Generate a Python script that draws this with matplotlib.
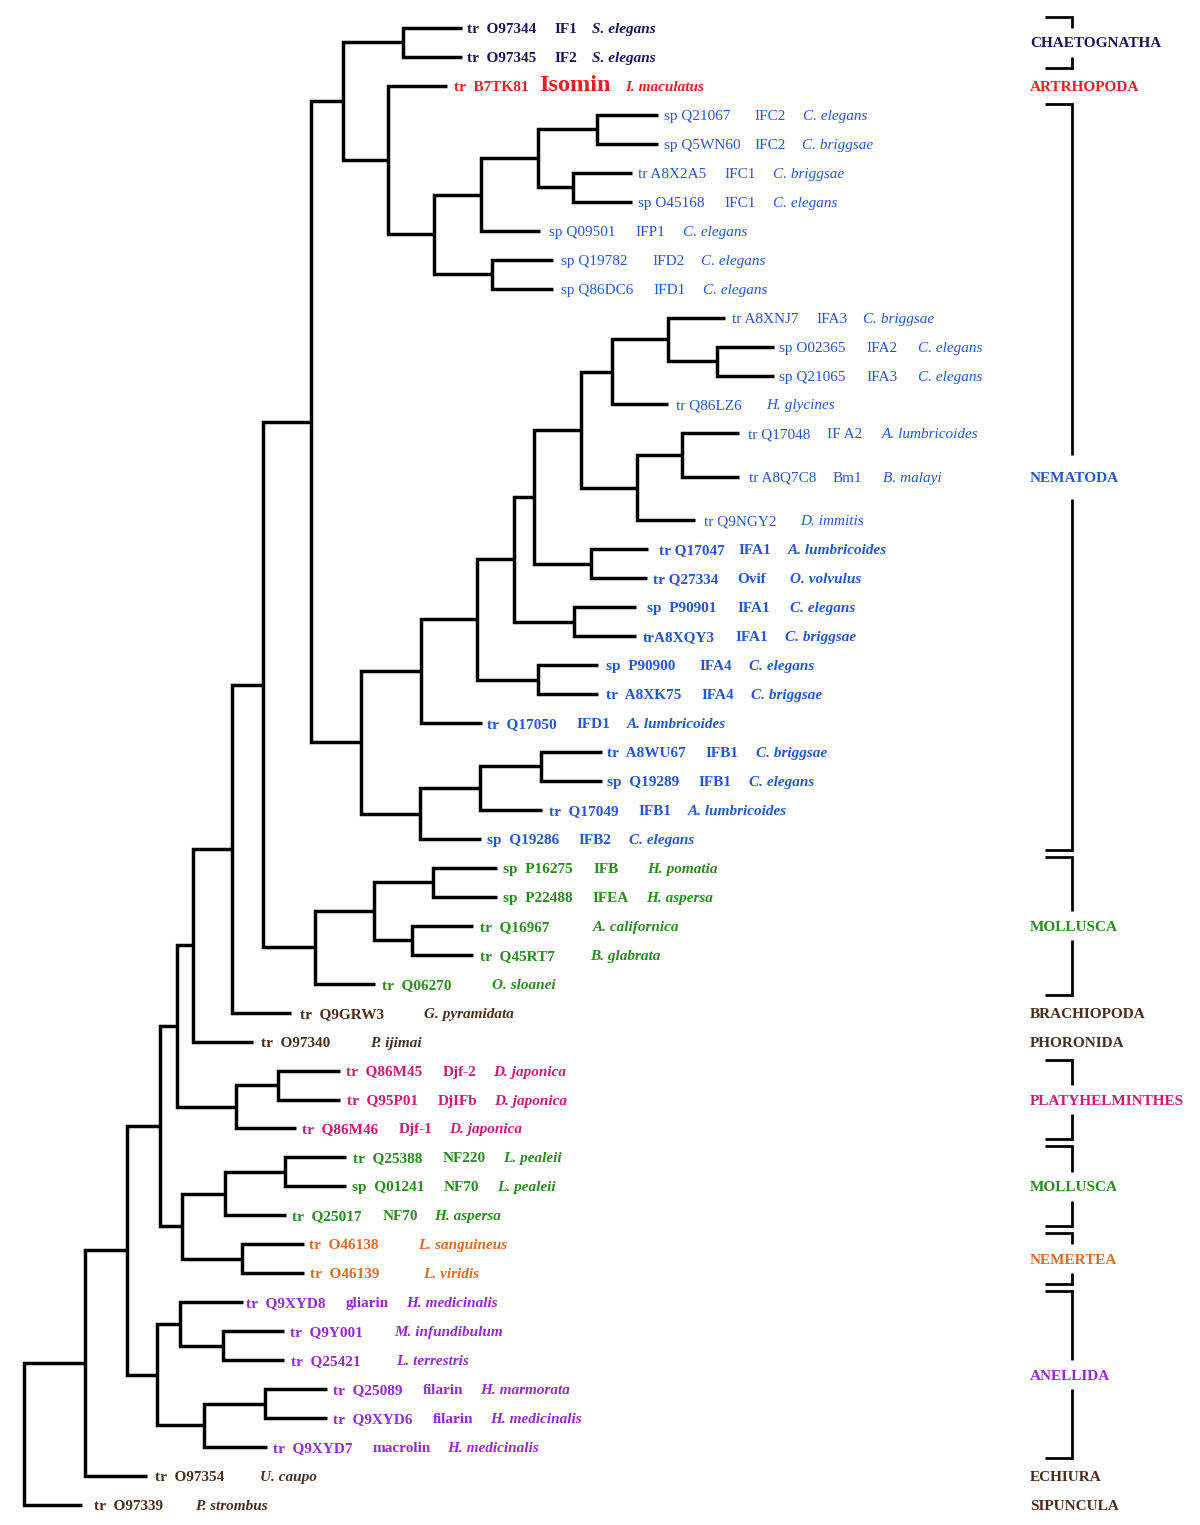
import matplotlib
matplotlib.use('Agg')
import matplotlib.pyplot as plt

# ---- leaves, top to bottom ----
leaf_id = ['tr  O97344', 'tr  O97345', 'tr  B7TK81',
           'sp Q21067', 'sp Q5WN60', 'tr A8X2A5', 'sp O45168', 'sp Q09501', 'sp Q19782', 'sp Q86DC6',
           'tr A8XNJ7', 'sp O02365', 'sp Q21065', 'tr Q86LZ6', 'tr Q17048', 'tr A8Q7C8', 'tr Q9NGY2',
           'tr Q17047', 'tr Q27334', 'sp  P90901', 'trA8XQY3', 'sp  P90900', 'tr  A8XK75', 'tr  Q17050',
           'tr  A8WU67', 'sp  Q19289', 'tr  Q17049', 'sp  Q19286',
           'sp  P16275', 'sp  P22488', 'tr  Q16967', 'tr  Q45RT7', 'tr  Q06270',
           'tr  Q9GRW3', 'tr  O97340',
           'tr  Q86M45', 'tr  Q95P01', 'tr  Q86M46',
           'tr  Q25388', 'sp  Q01241', 'tr  Q25017',
           'tr  O46138', 'tr  O46139',
           'tr  Q9XYD8', 'tr  Q9Y001', 'tr  Q25421', 'tr  Q25089', 'tr  Q9XYD6', 'tr  Q9XYD7',
           'tr  O97354', 'tr  O97339']
leaf_protein = ['IF1', 'IF2', 'Isomin', 'IFC2', 'IFC2', 'IFC1', 'IFC1', 'IFP1', 'IFD2', 'IFD1',
                'IFA3', 'IFA2', 'IFA3', '', 'IF A2', 'Bm1', '',
                'IFA1', 'Ovif', 'IFA1', 'IFA1', 'IFA4', 'IFA4', 'IFD1', 'IFB1', 'IFB1', 'IFB1', 'IFB2',
                'IFB', 'IFEA', '', '', '', '', '',
                'Djf-2', 'DjIFb', 'Djf-1', 'NF220', 'NF70', 'NF70', '', '',
                'gliarin', '', '', 'filarin', 'filarin', 'macrolin', '', '']
leaf_species = ['S. elegans', 'S. elegans', 'I. maculatus',
                'C. elegans', 'C. briggsae', 'C. briggsae', 'C. elegans', 'C. elegans', 'C. elegans', 'C. elegans',
                'C. briggsae', 'C. elegans', 'C. elegans', 'H. glycines', 'A. lumbricoides', 'B. malayi', 'D. immitis',
                'A. lumbricoides', 'O. volvulus', 'C. elegans', 'C. briggsae', 'C. elegans', 'C. briggsae',
                'A. lumbricoides', 'C. briggsae', 'C. elegans', 'A. lumbricoides', 'C. elegans',
                'H. pomatia', 'H. aspersa', 'A. californica', 'B. glabrata', 'O. sloanei',
                'G. pyramidata', 'P. ijimai',
                'D. japonica', 'D. japonica', 'D. japonica',
                'L. pealeii', 'L. pealeii', 'H. aspersa',
                'L. sanguineus', 'L. viridis',
                'H. medicinalis', 'M. infundibulum', 'L. terrestris', 'H. marmorata', 'H. medicinalis',
                'H. medicinalis', 'U. caupo', 'P. strombus']
leaf_group = (['chaet'] * 2 + ['arth'] + ['nema'] * 25 + ['moll'] * 5 + ['brown'] * 2 +
              ['platy'] * 3 + ['moll'] * 3 + ['nemer'] * 2 + ['anel'] * 6 + ['brown'] * 2)
# distance of each tip from the root
leaf_depth = [438, 438, 423, 634, 634, 608, 608, 516, 529, 529,
              701, 750, 750, 644, 715, 715, 671,
              624, 623, 612, 612, 574, 574, 458, 578, 578, 518, 457,
              473, 473, 449, 449, 351, 267, 229,
              316, 316, 272, 322, 322, 262, 280, 280,
              219, 260, 260, 303, 303, 243, 123, 58]
leaf_row = [0, 1, 2, 3, 4, 5, 6, 7, 8, 9, 10, 11, 12, 13, 14, 15.5, 17,
            18, 19, 20, 21, 22, 23, 24, 25, 26, 27, 28, 29, 30, 31, 32, 33, 34, 35,
            36, 37, 38, 39, 40, 41, 42, 43, 44, 45, 46, 47, 48, 49, 50, 51]

# ---- internal nodes (leaves are 'L1'..'L51') ----
node_name = ['root', 'M', 'L', 'J', 'I', 'H', 'G', 'E', 'D', 'B', 'A', 'C', 'X', 'Y', 'Z', 'Z1', 'Z2', 'X2',
             'NA', 'NB', 'NC', 'ND', 'NF', 'NH', 'NJ', 'NL', 'NM', 'NK', 'NN', 'NI', 'NG', 'NE',
             'NQ', 'NR', 'NS', 'F', 'F1', 'F2', 'F3', 'S', 'T', 'K', 'U', 'V', 'W', 'N', 'O', 'P', 'Q', 'R']
node_depth = [0, 61, 103, 136, 153, 169, 208, 239, 287, 319, 379, 364, 410, 457, 514, 573, 549, 468,
              337, 397, 453, 490, 510, 557, 588, 644, 693, 613, 658, 567, 550, 514,
              396, 456, 517, 291, 350, 409, 388, 212, 254, 158, 201, 261, 218, 133, 156, 199, 180, 241]
node_kids = [('M', 'L51'), ('L', 'L50'), ('J', 'N'), ('I', 'K'), ('H', 'S'), ('G', 'L35'), ('E', 'L34'),
             ('D', 'F'), ('B', 'NA'), ('A', 'C'), ('L1', 'L2'), ('L3', 'X'), ('Y', 'X2'), ('Z', 'L8'),
             ('Z1', 'Z2'), ('L4', 'L5'), ('L6', 'L7'), ('L9', 'L10'),
             ('NB', 'NQ'), ('NC', 'L24'), ('ND', 'NE'), ('NF', 'NG'), ('NH', 'NI'), ('NJ', 'NK'),
             ('NL', 'L14'), ('L11', 'NM'), ('L12', 'L13'), ('NN', 'L17'), ('L15', 'L16'), ('L18', 'L19'),
             ('L20', 'L21'), ('L22', 'L23'),
             ('NR', 'L28'), ('NS', 'L27'), ('L25', 'L26'), ('F1', 'L33'), ('F2', 'F3'), ('L29', 'L30'),
             ('L31', 'L32'), ('T', 'L38'), ('L36', 'L37'), ('U', 'W'), ('V', 'L41'), ('L39', 'L40'),
             ('L42', 'L43'), ('O', 'Q'), ('L44', 'P'), ('L45', 'L46'), ('R', 'L49'), ('L47', 'L48')]

# ---- clades on the right ----
clade_name = ['CHAETOGNATHA', 'ARTRHOPODA', 'NEMATODA', 'MOLLUSCA', 'BRACHIOPODA', 'PHORONIDA',
              'PLATYHELMINTHES', 'MOLLUSCA', 'NEMERTEA', 'ANELLIDA', 'ECHIURA', 'SIPUNCULA']
clade_first = [1, 3, 4, 29, 34, 35, 36, 39, 42, 44, 50, 51]
clade_last = [2, 3, 28, 33, 34, 35, 38, 41, 43, 49, 50, 51]
clade_group = ['chaet', 'arth', 'nema', 'moll', 'brown', 'brown', 'platy', 'moll', 'nemer', 'anel',
               'brown', 'brown']

colors = {'chaet': '#16165c', 'arth': '#eb1e23', 'nema': '#2457d6', 'moll': '#288c1e',
          'brown': '#4b2d19', 'platy': '#d21973', 'nemer': '#e16923', 'anel': '#9628d7'}

# label layout: gap after the tip, protein column, species column (relative to tip)
lab_gap = [5, 5, 7, 6, 6, 6, 6, 9, 8, 8, 7, 5, 5, 8, 9, 10, 9, 11, 6, 11, 7, 8, 8, 5, 5, 5, 7, 6,
           6, 6, 7, 7, 7, 9, 8, 6, 7, 6, 7, 6, 6, 5, 6, 3, 6, 7, 6, 6, 6, 8, 12]
lab_prot = [93, 93, 92, 96, 96, 92, 92, 95, 99, 100, 91, 92, 92, 0, 88, 94, 0, 91, 90, 102, 100, 102,
            104, 95, 104, 97, 97, 98, 97, 96, 0, 0, 0, 0, 0, 103, 98, 103, 97, 98, 97, 0, 0, 103,
            0, 0, 96, 106, 106, 0, 0]
lab_sp = [130, 130, 178, 145, 144, 141, 141, 143, 148, 150, 138, 144, 144, 98, 143, 144, 105, 140, 143,
          154, 149, 151, 153, 145, 154, 147, 146, 148, 150, 149, 120, 117, 117, 133, 117, 153, 154, 153,
          157, 151, 148, 114, 119, 163, 110, 112, 153, 163, 180, 113, 113]

ROW_PX = 28.96
fig = plt.figure(figsize=(12, 15.25), dpi=100)
ax = fig.add_axes([0, 0, 1, 1])
ax.set_xlim(-24, 1176)
ax.set_ylim((1525 - 28) / ROW_PX, -28 / ROW_PX)
ax.axis('off')

# tree layout
depth = {}
ypos = {}
for i in range(len(leaf_id)):
    depth['L%d' % (i + 1)] = leaf_depth[i]
    ypos['L%d' % (i + 1)] = leaf_row[i]
kids = dict(zip(node_name, node_kids))
for n, d in zip(node_name, node_depth):
    depth[n] = d


def place(n):
    if n not in ypos:
        a, b = kids[n]
        ypos[n] = (place(a) + place(b)) / 2.0
    return ypos[n]


place('root')

for n in node_name:
    a, b = kids[n]
    ax.plot([depth[a], depth[n], depth[n], depth[b]],
            [ypos[a], ypos[a], ypos[b], ypos[b]],
            color='black', lw=2.5, solid_joinstyle='miter', solid_capstyle='butt')

FONT = 'Liberation Serif'
FS = 11
base = 5 / ROW_PX  # baseline sits just under the branch

for i in range(len(leaf_id)):
    col = colors[leaf_group[i]]
    weight = 'normal' if 3 <= i <= 16 else 'bold'
    x0 = leaf_depth[i]
    y = leaf_row[i] + base
    ax.text(x0 + lab_gap[i], y, leaf_id[i], color=col, fontsize=FS, fontweight=weight,
            family=FONT, va='baseline', ha='left')
    if leaf_protein[i]:
        big = leaf_protein[i] == 'Isomin'
        ax.text(x0 + lab_prot[i], y, leaf_protein[i], color=col, fontsize=17.5 if big else FS,
                fontweight=weight, family=FONT, va='baseline', ha='left')
    ax.text(x0 + lab_sp[i], y, leaf_species[i], color=col, fontsize=FS, fontweight=weight,
            style='italic', family=FONT, va='baseline', ha='left')

# clade brackets
BX = 1048
TICK = 27
for name, f, l, g in zip(clade_name, clade_first, clade_last, clade_group):
    r0, r1 = leaf_row[f - 1], leaf_row[l - 1]
    mid = (r0 + r1) / 2.0
    ax.text(1006, mid + base, name, color=colors[g], fontsize=FS, fontweight='bold',
            family=FONT, va='baseline', ha='left')
    if f != l:
        top, bot = r0 - 0.38, r1 + 0.38
        gap = 0.5 if (r1 - r0) < 8 else 0.75
        ax.plot([BX - TICK, BX, BX], [top, top, mid - gap], color='black', lw=2.0,
                solid_joinstyle='miter', solid_capstyle='butt')
        ax.plot([BX, BX, BX - TICK], [mid + gap, bot, bot], color='black', lw=2.0,
                solid_joinstyle='miter', solid_capstyle='butt')

fig.savefig('out.png', dpi=100, facecolor='white')
